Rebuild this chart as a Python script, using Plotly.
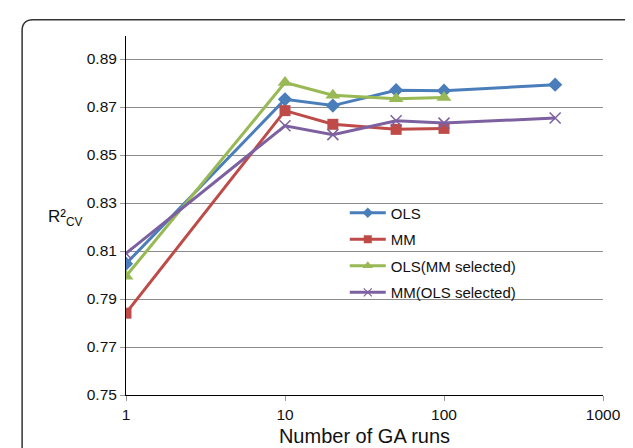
import plotly.graph_objects as go

# ---- data ----
ga_runs = [1, 10, 20, 50, 100, 500]
ols = [0.8047, 0.8732, 0.8706, 0.8770, 0.8768, 0.8793]
mm_runs = [1, 10, 20, 50, 100]
mm = [0.7841, 0.8685, 0.8628, 0.8607, 0.8611]
ols_mm_runs = [1, 10, 20, 50, 100]
ols_mm_sel = [0.7995, 0.8802, 0.8749, 0.8734, 0.8740]
mm_ols_sel = [0.8090, 0.8622, 0.8585, 0.8643, 0.8633, 0.8654]
y_ticks = [0.75, 0.77, 0.79, 0.81, 0.83, 0.85, 0.87, 0.89]
x_ticks = [1, 10, 100, 1000]
series_names = ["OLS", "MM", "OLS(MM selected)", "MM(OLS selected)"]

W, H = 633, 448
L, R, T, B = 118, 37.5, 28.3, 53.7
pw, ph = W - L - R, H - T - B

def px(x):
    return (x - L) / pw

def py(y):
    return (H - B - y) / ph

FONT = "Liberation Sans, Arial, Helvetica, sans-serif"

styles = [
    dict(color="#4A7EBB", symbol="diamond", size=11, lsize=8),
    dict(color="#BE4B48", symbol="square", size=11, lsize=8),
    dict(color="#98B954", symbol="triangle-up", size=13, lsize=9),
    dict(color="#7D60A0", symbol="x-thin-open", size=11, lsize=8),
]
xs = [ga_runs, mm_runs, ols_mm_runs, ga_runs]
ys = [ols, mm, ols_mm_sel, mm_ols_sel]

fig = go.Figure()
for name, st, xv, yv in zip(series_names, styles, xs, ys):
    mk = dict(symbol=st["symbol"], size=st["size"], color=st["color"])
    if st["symbol"] == "x-thin-open":
        mk["line"] = dict(color=st["color"], width=1.5)
    fig.add_trace(go.Scatter(x=xv, y=yv, name=name, mode="lines+markers",
                             showlegend=False,
                             line=dict(color=st["color"], width=3), marker=mk))

# legend entries (smaller symbols, as in the reference legend)
for i, (name, st) in enumerate(zip(series_names, styles)):
    mk = dict(symbol=st["symbol"], size=st["lsize"], color=st["color"])
    if st["symbol"] == "x-thin-open":
        mk["line"] = dict(color=st["color"], width=1.2)
    fig.add_trace(go.Scatter(x=[None], y=[None], name=name, mode="lines+markers",
                             legendgroup=f"g{i}", showlegend=True,
                             line=dict(color=st["color"], width=3), marker=mk))

# rounded frame (partly outside the picture, as in the reference)
x0, x1, ytop, ybot, r = 14, 632, 11.7, 470, 11
path = (f"M {px(x0)},{py(ybot)} L {px(x0)},{py(ytop + r)} "
        f"Q {px(x0)},{py(ytop)} {px(x0 + r)},{py(ytop)} "
        f"L {px(x1 - r)},{py(ytop)} Q {px(x1)},{py(ytop)} {px(x1)},{py(ytop + r)} "
        f"L {px(x1)},{py(ybot)}")
fig.add_shape(type="path", xref="paper", yref="paper", path=path,
              line=dict(color="#333333", width=1.5), layer="below")

fig.add_annotation(text="R²<sub>CV</sub>", xref="paper", yref="paper",
                   x=px(38), y=py(214), xanchor="left", yanchor="middle",
                   showarrow=False, font=dict(family=FONT, size=17, color="#111"))

fig.update_layout(
    width=W, height=H,
    margin=dict(l=L, r=R, t=T, b=B, pad=0),
    paper_bgcolor="white", plot_bgcolor="white",
    font=dict(family=FONT, color="#111"),
    showlegend=True,
    legend=dict(x=px(337), y=py(192), xanchor="left", yanchor="top",
                bgcolor="rgba(0,0,0,0)", font=dict(family=FONT, size=15, color="#111"),
                traceorder="grouped", tracegroupgap=4, itemwidth=36),
    xaxis=dict(type="log", range=[0, 3], tickvals=x_ticks, ticktext=[str(v) for v in x_ticks],
               showgrid=False, showline=True, linecolor="black", linewidth=1,
               ticks="outside", ticklen=5, tickcolor="#999999",
               tickfont=dict(family=FONT, size=15.5, color="#111"),
               title=dict(text="Number of GA runs", font=dict(family=FONT, size=20, color="#111"),
                          standoff=7),
               zeroline=False),
    yaxis=dict(range=[0.75, 0.8996], tickvals=y_ticks, ticktext=[f"{v:.2f}" for v in y_ticks],
               showgrid=True, gridcolor="#8C8C8C", gridwidth=1,
               showline=True, linecolor="black", linewidth=1,
               ticks="outside", ticklen=5, tickcolor="#999999",
               tickfont=dict(family=FONT, size=15.5, color="#111"),
               zeroline=False),
)

fig.write_html("out.html")
